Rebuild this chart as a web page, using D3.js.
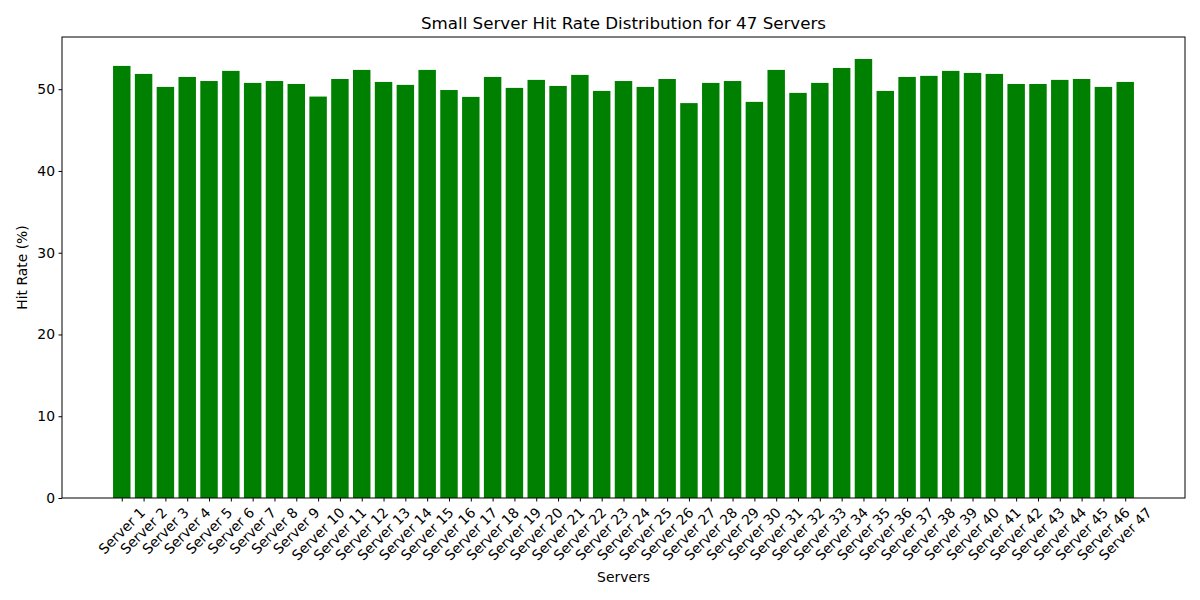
<!DOCTYPE html>
<html>
<head>
<meta charset="utf-8">
<script src="https://cdn.jsdelivr.net/npm/d3@7"></script>
<style>
  body { margin: 0; background: #fff; }
  text { font-family: "DejaVu Sans", sans-serif; fill: #000; }
</style>
</head>
<body>
<div id="chart"></div>
<script>
// data
var servers = d3.range(1, 48).map(function(i) { return "Server " + i; });
var hitRates = [52.85, 51.87, 50.28, 51.5, 51.0, 52.24, 50.77, 51.0, 50.64, 49.1,
  51.25, 52.36, 50.89, 50.53, 52.36, 49.9, 49.06, 51.5, 50.16, 51.14,
  50.4, 51.75, 49.79, 51.0, 50.28, 51.25, 48.3, 50.77, 51.0, 48.45,
  52.36, 49.55, 50.77, 52.6, 53.7, 49.79, 51.5, 51.63, 52.24, 51.99,
  51.87, 50.64, 50.64, 51.14, 51.25, 50.28, 50.89];
var yTicks = [0, 10, 20, 30, 40, 50];

var Margin = {top: 37, right: 15, bottom: 102, left: 62},
  Width = 1200 - Margin.left - Margin.right,
  Height = 600 - Margin.top - Margin.bottom;

var svg = d3.select("#chart").append("svg")
  .attr("width", 1200).attr("height", 600);
var g = svg.append("g")
  .attr("transform", "translate(" + Margin.left + "," + Margin.top + ")");

// matplotlib-like x limits: bars of width 0.8 plus 5% margins
var n = servers.length;
var span = (n - 1) + 0.8;
var xScale = d3.scaleLinear()
  .domain([-0.4 - 0.05 * span, n - 1 + 0.4 + 0.05 * span])
  .range([0, Width]);
var yMax = d3.max(hitRates) * 1.05;
var yScale = d3.scaleLinear().domain([0, yMax]).range([Height, 0]);

// bars
g.selectAll("rect.bar")
  .data(hitRates)
  .enter().append("rect")
  .attr("class", "bar")
  .attr("x", function(d, i) { return xScale(i - 0.4); })
  .attr("width", xScale(0.8) - xScale(0))
  .attr("y", function(d) { return yScale(d); })
  .attr("height", function(d) { return Height - yScale(d); })
  .style("fill", "green");

// y axis
var yAxis = g.append("g")
  .call(d3.axisLeft(yScale).tickValues(yTicks).tickSize(3.5).tickPadding(3.5).tickFormat(d3.format("d")));
yAxis.selectAll("text").style("font-size", "13.9px");
yAxis.select(".domain").remove();

// x axis ticks
var xAxis = g.append("g")
  .attr("transform", "translate(0," + Height + ")")
  .call(d3.axisBottom(xScale).tickValues(d3.range(n)).tickSize(3.5).tickFormat(""));
xAxis.select(".domain").remove();
xAxis.selectAll("line").style("stroke", "#000");
yAxis.selectAll("line").style("stroke", "#000");

// rotated tick labels (center aligned like matplotlib rotation=45)
var labels = g.append("g").selectAll("text.xl")
  .data(servers)
  .enter().append("text")
  .attr("class", "xl")
  .style("font-size", "13.9px")
  .attr("text-anchor", "middle")
  .attr("dominant-baseline", "central")
  .text(function(d) { return d; });
labels.each(function(d, i) {
  var w = this.getComputedTextLength();
  var h = 13.9;
  var half = (w + h) / (2 * Math.SQRT2);
  var cx = xScale(i), cy = Height + 7 + half;
  d3.select(this).attr("transform", "translate(" + cx + "," + cy + ") rotate(-45)");
});

// frame
g.append("rect")
  .attr("width", Width).attr("height", Height)
  .style("fill", "none").style("stroke", "#000").style("stroke-width", 1);

// titles
svg.append("text")
  .attr("x", Margin.left + Width / 2).attr("y", 29)
  .attr("text-anchor", "middle")
  .style("font-size", "16.7px")
  .text("Small Server Hit Rate Distribution for 47 Servers");
svg.append("text")
  .attr("x", Margin.left + Width / 2).attr("y", 582)
  .attr("text-anchor", "middle")
  .style("font-size", "13.9px")
  .text("Servers");
svg.append("text")
  .attr("transform", "translate(27," + (Margin.top + Height / 2) + ") rotate(-90)")
  .attr("text-anchor", "middle")
  .style("font-size", "13.9px")
  .text("Hit Rate (%)");
</script>
</body>
</html>
